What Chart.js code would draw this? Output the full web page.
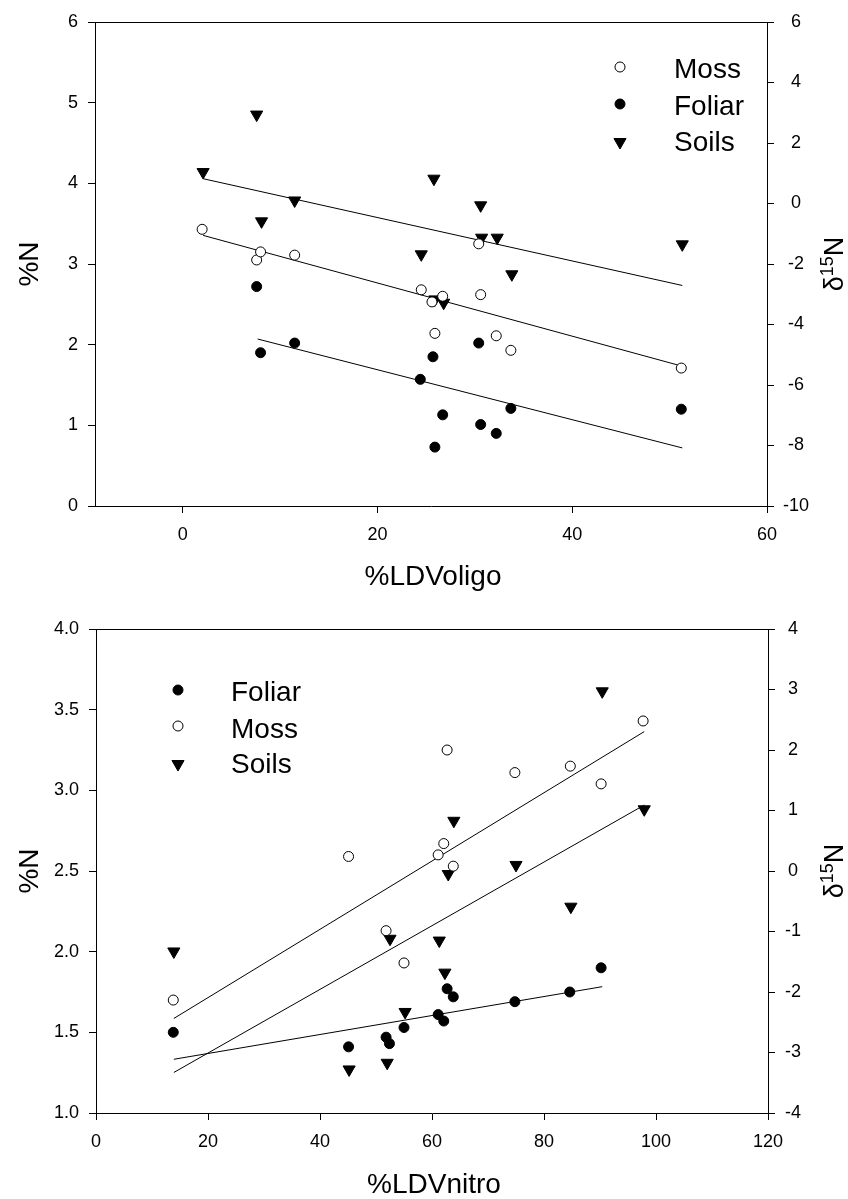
<!DOCTYPE html>
<html>
<head>
<meta charset="utf-8">
<script src="https://cdn.jsdelivr.net/npm/chart.js@4.4.0/dist/chart.umd.min.js"></script>
<style>
  body { margin: 0; background: #fff; width: 848px; height: 1199px; overflow: hidden; position: relative; }
  canvas { position: absolute; left: 0; }
  #oligo { top: 0; }
  #nitro { top: 600px; }
</style>
</head>
<body>
<canvas id="oligo" width="848" height="600"></canvas>
<canvas id="nitro" width="848" height="599"></canvas>
<script>
// ---- data: top panel, x = %LDVoligo ----
var oligoMoss = [[2.0,3.43],[7.6,3.05],[8.0,3.15],[11.5,3.11],[24.5,2.68],[25.6,2.53],[25.9,2.14],[26.7,2.60],[30.4,3.25],[30.6,2.62],[32.2,2.11],[33.7,1.93],[51.2,1.71]];
var oligoFoliar = [[7.6,2.72],[8.0,1.90],[11.5,2.02],[24.4,1.57],[25.7,1.85],[25.9,0.73],[26.7,1.13],[30.4,2.02],[30.6,1.01],[32.2,0.90],[33.7,1.21],[51.2,1.20]];
// soils are d15N, right axis
var oligoSoils = [[2.1,1.04],[7.6,2.94],[8.1,-0.59],[11.5,0.10],[24.5,-1.68],[25.8,0.82],[25.9,-3.17],[26.8,-3.28],[30.6,-0.06],[30.7,-1.13],[32.3,-1.13],[33.8,-2.34],[51.3,-1.35]];
var oligoMossFit = [[2.1,3.355],[51.2,1.736]];
var oligoFoliarFit = [[7.7,2.07],[51.3,0.72]];
var oligoSoilsFit = [[2.1,0.82],[51.3,-2.71]];
var oligoXTicks = [0, 20, 40, 60];

// ---- data: bottom panel, x = %LDVnitro ----
var nitroFoliar = [[13.8,1.50],[45.1,1.41],[51.8,1.47],[52.4,1.43],[55.0,1.53],[61.1,1.61],[62.1,1.57],[62.7,1.77],[63.8,1.72],[74.8,1.69],[84.6,1.75],[90.2,1.90]];
var nitroMoss = [[13.8,1.70],[45.1,2.59],[51.8,2.13],[55.0,1.93],[61.1,2.60],[62.1,2.67],[62.7,3.25],[63.8,2.53],[74.8,3.11],[84.7,3.15],[90.2,3.04],[97.7,3.43]];
var nitroSoils = [[13.9,-1.33],[45.2,-3.28],[52.0,-3.17],[52.5,-1.12],[55.2,-2.33],[61.3,-1.15],[62.3,-1.68],[62.9,-0.05],[63.9,0.83],[75.0,0.10],[84.8,-0.59],[90.4,2.97],[97.9,1.02]];
var nitroMossFit = [[13.9,1.586],[97.9,3.364]];
var nitroSoilsFit = [[13.9,-3.33],[97.9,1.09]];
var nitroFoliarFit = [[13.9,1.333],[90.4,1.783]];
var nitroXTicks = [0, 20, 40, 60, 80, 100, 120];

var FONT = "'Liberation Sans', Arial, sans-serif";

function pts(list) {
    return list.map(function (p) { return { x: p[0], y: p[1] }; });
}

function marks(label, list, style, axis) {
    return {
        type: 'scatter',
        label: label,
        data: pts(list),
        yAxisID: axis,
        pointStyle: style == 'tri' ? 'triangle' : 'circle',
        rotation: style == 'tri' ? 180 : 0,
        pointRadius: style == 'tri' ? 7 : 5,
        backgroundColor: style == 'open' ? '#fff' : '#000',
        borderColor: '#000',
        borderWidth: 1,
        order: 0
    };
}

function fitLine(list, axis) {
    return {
        type: 'line',
        data: pts(list),
        yAxisID: axis,
        borderColor: '#000',
        borderWidth: 1,
        pointRadius: 0,
        fill: false,
        order: 1
    };
}

function drawMarker(ctx, style, x, y) {
    ctx.save();
    ctx.lineWidth = 1;
    ctx.strokeStyle = '#000';
    ctx.beginPath();
    if (style == 'tri') {
        var r = 7;
        ctx.moveTo(x, y + r);
        ctx.lineTo(x - r * Math.sin(Math.PI / 3), y - r / 2);
        ctx.lineTo(x + r * Math.sin(Math.PI / 3), y - r / 2);
        ctx.closePath();
        ctx.fillStyle = '#000';
    } else {
        ctx.arc(x, y, 5, 0, Math.PI * 2);
        ctx.fillStyle = style == 'open' ? '#fff' : '#000';
    }
    ctx.fill();
    ctx.stroke();
    ctx.restore();
}

// frame top line, axis titles, legend
var decor = {
    id: 'decor',
    afterDraw: function (chart, args, o) {
        var ctx = chart.ctx, a = chart.chartArea;
        ctx.save();
        ctx.strokeStyle = '#000';
        ctx.lineWidth = 1;
        ctx.beginPath();
        ctx.moveTo(a.left, a.top + 0.5);
        ctx.lineTo(a.right, a.top + 0.5);
        ctx.stroke();

        ctx.fillStyle = '#000';
        ctx.font = '28px ' + FONT;
        ctx.textBaseline = 'alphabetic';
        ctx.textAlign = 'center';
        ctx.fillText(o.xTitle, (a.left + a.right) / 2 + 2, o.xTitleY);

        var cy = (a.top + a.bottom) / 2;
        ctx.save();
        ctx.translate(38, cy);
        ctx.rotate(-Math.PI / 2);
        ctx.fillText('%N', 0, 0);
        ctx.restore();

        // d15N on the right
        ctx.save();
        ctx.translate(843, cy);
        ctx.rotate(-Math.PI / 2);
        ctx.textAlign = 'left';
        ctx.font = '27px ' + FONT;
        var w1 = ctx.measureText('\u03B4').width;
        var w3 = ctx.measureText('N').width;
        ctx.font = '18px ' + FONT;
        var w2 = ctx.measureText('15').width;
        var x0 = -(w1 + w2 + w3) / 2;
        ctx.font = '27px ' + FONT;
        ctx.fillText('\u03B4', x0, 0);
        ctx.font = '18px ' + FONT;
        ctx.fillText('15', x0 + w1, -10);
        ctx.font = '27px ' + FONT;
        ctx.fillText('N', x0 + w1 + w2, 0);
        ctx.restore();

        ctx.font = '28px ' + FONT;
        ctx.textAlign = 'left';
        o.legend.forEach(function (it) {
            drawMarker(ctx, it.style, o.legendX, it.y);
            ctx.fillStyle = '#000';
            ctx.fillText(it.label, o.legendTextX, it.base);
        });
        ctx.restore();
    }
};

function axisStyle() {
    return {
        grid: { drawOnChartArea: false, drawTicks: true, tickLength: 7, color: '#000', lineWidth: 1 },
        border: { color: '#000', width: 1 },
        ticks: { color: '#000', font: { family: FONT, size: 18 }, padding: 10, autoSkip: false, maxRotation: 0 }
    };
}

function makeChart(id, p) {
    var x = axisStyle(), y = axisStyle(), y2 = axisStyle();
    x.type = 'linear'; x.position = 'bottom'; x.min = p.xMin; x.max = p.xMax;
    x.afterBuildTicks = function (s) { s.ticks = p.xTicks.map(function (v) { return { value: v }; }); };
    x.afterFit = function (s) { s.height = p.xHeight; };
    x.ticks.padding = 11;

    y.type = 'linear'; y.position = 'left'; y.min = p.yMin; y.max = p.yMax;
    y.ticks.stepSize = p.yStep;
    if (p.yFmt) y.ticks.callback = p.yFmt;
    y.afterFit = function (s) { s.width = p.leftW; };

    y2.type = 'linear'; y2.position = 'right'; y2.min = p.y2Min; y2.max = p.y2Max;
    y2.ticks.stepSize = p.y2Step;
    y2.ticks.crossAlign = 'center';
    y2.ticks.padding = p.y2Pad;
    y2.afterFit = function (s) { s.width = p.rightW; };

    return new Chart(document.getElementById(id).getContext('2d'), {
        type: 'scatter',
        data: { datasets: p.datasets },
        options: {
            responsive: false,
            animation: false,
            layout: { padding: { top: p.top, left: 0, right: 0, bottom: 0 } },
            scales: { x: x, y: y, y2: y2 },
            plugins: {
                legend: { display: false },
                tooltip: { enabled: false },
                decor: p.decor
            }
        },
        plugins: [decor]
    });
}

makeChart('oligo', {
    xMin: -9, xMax: 60, xTicks: oligoXTicks, xHeight: 94,
    yMin: 0, yMax: 6, yStep: 1,
    y2Min: -10, y2Max: 6, y2Step: 2, y2Pad: 9,
    top: 22, leftW: 95, rightW: 81,
    datasets: [
        marks('Moss', oligoMoss, 'open', 'y'),
        marks('Foliar', oligoFoliar, 'filled', 'y'),
        marks('Soils', oligoSoils, 'tri', 'y2'),
        fitLine(oligoMossFit, 'y'),
        fitLine(oligoFoliarFit, 'y'),
        fitLine(oligoSoilsFit, 'y2')
    ],
    decor: {
        xTitle: '%LDVoligo', xTitleY: 585,
        legendX: 620, legendTextX: 674,
        legend: [
            { style: 'open', label: 'Moss', y: 67, base: 78 },
            { style: 'filled', label: 'Foliar', y: 104, base: 115 },
            { style: 'tri', label: 'Soils', y: 142, base: 151 }
        ]
    }
});

makeChart('nitro', {
    xMin: 0, xMax: 120, xTicks: nitroXTicks, xHeight: 86,
    yMin: 1, yMax: 4, yStep: 0.5,
    yFmt: function (v) { return v.toFixed(1); },
    y2Min: -4, y2Max: 4, y2Step: 1, y2Pad: 10,
    top: 29, leftW: 96, rightW: 80,
    datasets: [
        marks('Foliar', nitroFoliar, 'filled', 'y'),
        marks('Moss', nitroMoss, 'open', 'y'),
        marks('Soils', nitroSoils, 'tri', 'y2'),
        fitLine(nitroMossFit, 'y'),
        fitLine(nitroSoilsFit, 'y2'),
        fitLine(nitroFoliarFit, 'y')
    ],
    decor: {
        xTitle: '%LDVnitro', xTitleY: 593,
        legendX: 178, legendTextX: 231,
        legend: [
            { style: 'filled', label: 'Foliar', y: 90, base: 101 },
            { style: 'open', label: 'Moss', y: 126, base: 138 },
            { style: 'tri', label: 'Soils', y: 164, base: 173 }
        ]
    }
});
</script>
</body>
</html>
